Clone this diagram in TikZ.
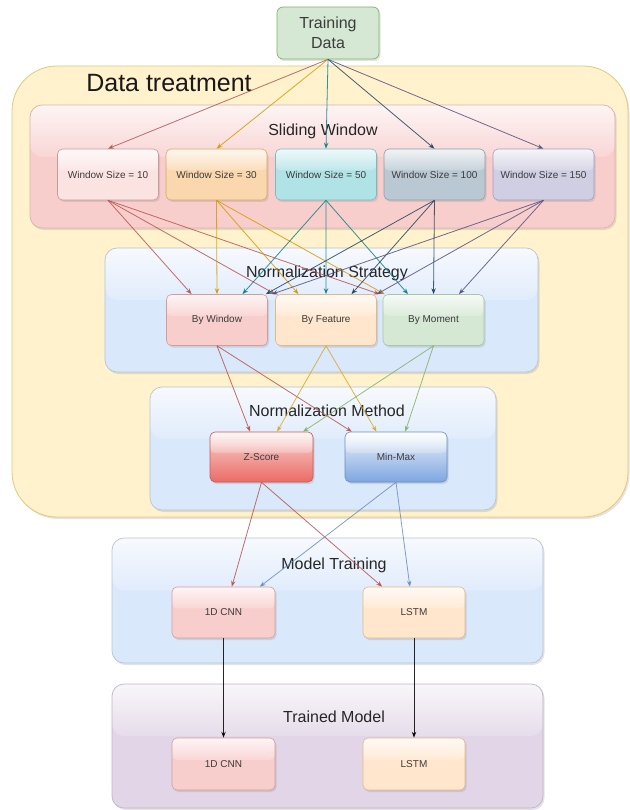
\documentclass[tikz,border=0pt]{standalone}
\usepackage{fontspec}
\setmainfont{Liberation Sans}
\usetikzlibrary{arrows.meta,calc,shadows,fadings}
\definecolor{txt}{HTML}{3C3C3C}
\definecolor{dtfill}{HTML}{FFF2CC}\definecolor{dtdraw}{HTML}{E3C77A}
\definecolor{swfill}{HTML}{F8CECC}\definecolor{swdraw}{HTML}{D9B3B1}
\definecolor{blfill}{HTML}{DAE8FC}\definecolor{bldraw}{HTML}{B7C4D6}
\definecolor{pufill}{HTML}{E1D5E7}\definecolor{pudraw}{HTML}{C0B5C6}
\definecolor{gnfill}{HTML}{D5E8D4}\definecolor{gndraw}{HTML}{82B366}
\definecolor{wafill}{HTML}{FBE3E2}\definecolor{wadraw}{HTML}{C89A98}
\definecolor{wbfill}{HTML}{FAD7AC}\definecolor{wbdraw}{HTML}{D7A86A}
\definecolor{wcfill}{HTML}{B0E3E6}\definecolor{wcdraw}{HTML}{7FB8BD}
\definecolor{wdfill}{HTML}{BAC8D3}\definecolor{wddraw}{HTML}{8D9EAB}
\definecolor{wefill}{HTML}{D0CEE2}\definecolor{wedraw}{HTML}{A29FBF}
\definecolor{rdfill}{HTML}{F8CECC}\definecolor{rddraw}{HTML}{D49C9A}
\definecolor{orfill}{HTML}{FFE6CC}\definecolor{ordraw}{HTML}{E0B98B}
\definecolor{grfill}{HTML}{D5E8D4}\definecolor{grdraw}{HTML}{A7C7A5}
\definecolor{zstop}{HTML}{F9D5D2}\definecolor{zsbot}{HTML}{EA6B66}\definecolor{zsdraw}{HTML}{C65C58}
\definecolor{mmtop}{HTML}{EEF3FB}\definecolor{mmbot}{HTML}{7EA6E0}\definecolor{mmdraw}{HTML}{6C8EBF}
\definecolor{ea}{HTML}{B85450}\definecolor{eb}{HTML}{D79B00}\definecolor{ec}{HTML}{0E8088}
\definecolor{ed}{HTML}{23445D}\definecolor{ee}{HTML}{56517E}
\definecolor{ef}{HTML}{D9A92C}\definecolor{eg}{HTML}{82B366}\definecolor{eh}{HTML}{6C8EBF}
\begin{document}
\begin{tikzpicture}[x=1pt,y=-1pt,
  glass/.style={path picture={
     \fill[white,opacity=0.2] (path picture bounding box.north west) rectangle ($(path picture bounding box.north east)!0.42!(path picture bounding box.south east)$);
     \fill[white,opacity=#1,path fading=south] (path picture bounding box.north west) rectangle ($(path picture bounding box.north east)!0.42!(path picture bounding box.south east)$);}},
  glass/.default=0.75,
  shad/.style={drop shadow={opacity=0.22,shadow xshift=1.5pt,shadow yshift=-2pt}},
  cont/.style 2 args={draw=#2, fill=#1, line width=0.7pt, rounded corners=12pt, inner sep=0pt, glass, shad},
  inbox/.style 2 args={draw=#2, fill=#1, line width=0.6pt, rounded corners=5pt, minimum width=101pt, minimum height=51pt, inner sep=0pt, font=\fontsize{10}{12}\selectfont, text=txt, glass, shad},
  lbl/.style={font=\fontsize{16}{19}\selectfont, text=black!85, inner sep=0pt},
  arr/.style={draw=#1, draw opacity=0.85, line width=0.8pt, -{Stealth[length=6pt,width=4.5pt]}}
]
\useasboundingbox (0,0) rectangle (629,810);

% Data treatment container
\node[draw=dtdraw, fill=dtfill, line width=0.8pt, rounded corners=45pt, minimum width=616pt, minimum height=451pt, inner sep=0pt, shad] (dt) at (320,291.5) {};
\node[font=\fontsize{25}{30}\selectfont, text=black!90, inner sep=0pt] (dtl) at (169,83) {Data treatment};

% Training data
\node[draw=gndraw, fill=gnfill, line width=0.7pt, rounded corners=6pt, minimum width=102pt, minimum height=52pt, inner sep=0pt, align=center, font=\fontsize{16}{20}\selectfont, text=txt, shad] (td) at (328,33) {Training\\Data};

% Sliding window
\node[cont={swfill}{swdraw}, minimum width=585pt, minimum height=123pt] (sw) at (322.5,166.5) {};
\node[lbl] (swl) at (323,131) {Sliding Window};
\node[inbox={wafill}{wadraw}] (w1) at (108,174.5) {Window Size = 10};
\node[inbox={wbfill}{wbdraw}] (w2) at (216.5,174.5) {Window Size = 30};
\node[inbox={wcfill}{wcdraw}] (w3) at (326,174.5) {Window Size = 50};
\node[inbox={wdfill}{wddraw}] (w4) at (434.5,174.5) {Window Size = 100};
\node[inbox={wefill}{wedraw}] (w5) at (543.5,174.5) {Window Size = 150};

% Normalization strategy
\node[cont={blfill}{bldraw}, minimum width=433pt, minimum height=124pt] (ns) at (321.5,310) {};
\node[lbl] (nsl) at (327,273) {Normalization Strategy};
\node[inbox={rdfill}{rddraw}] (bw) at (217,320) {By Window};
\node[inbox={orfill}{ordraw}] (bf) at (326,320) {By Feature};
\node[inbox={grfill}{grdraw}] (bm) at (433.5,320) {By Moment};

% Normalization method
\node[cont={blfill}{bldraw}, minimum width=346pt, minimum height=123pt] (nm) at (323,448.5) {};
\node[lbl] (nml) at (327,411) {Normalization Method};
\node[inbox={zsbot}{zsdraw}, top color=zstop, bottom color=zsbot, minimum width=103pt, minimum height=50pt] (zs) at (261.5,457) {Z-Score};
\node[inbox={mmbot}{mmdraw}, top color=mmtop, bottom color=mmbot, minimum width=102pt, minimum height=50pt] (mm) at (396,457) {Min-Max};

% Model training
\node[cont={blfill}{bldraw}, minimum width=431pt, minimum height=125pt] (mt) at (327.5,600.5) {};
\node[lbl] (mtl) at (334,565) {Model Training};
\node[inbox={rdfill}{rddraw}, minimum width=103pt] (c1) at (223.5,612.5) {1D CNN};
\node[inbox={orfill}{ordraw}, minimum width=102pt] (l1) at (414,612.5) {LSTM};

% Trained model
\node[cont={pufill}{pudraw}, minimum width=431pt, minimum height=124pt] (tm) at (327.5,746) {};
\node[lbl] (tml) at (334,717) {Trained Model};
\node[inbox={rdfill}{rddraw}, minimum width=103pt, minimum height=52pt] (c2) at (223.5,764) {1D CNN};
\node[inbox={orfill}{ordraw}, minimum width=102pt, minimum height=52pt] (l2) at (414,764) {LSTM};

% Training data -> windows
\draw[arr=ea] (td.south) -- (w1.north);
\draw[arr=eb] (td.south) -- (w2.north);
\draw[arr=ec] (td.south) -- (w3.north);
\draw[arr=ed] (td.south) -- (w4.north);
\draw[arr=ee] (td.south) -- (w5.north);

% Windows -> strategies
\draw[arr=ea] (w1.south) -- ($(bw.north west)!0.25!(bw.north east)$);
\draw[arr=ea] (w1.south) -- ($(bf.north west)!0.0!(bf.north east)$);
\draw[arr=ea] (w1.south) -- ($(bm.north west)!-0.03!(bm.north east)$);
\draw[arr=eb] (w2.south) -- ($(bw.north west)!0.5!(bw.north east)$);
\draw[arr=eb] (w2.south) -- ($(bf.north west)!0.23!(bf.north east)$);
\draw[arr=eb] (w2.south) -- ($(bm.north west)!0.02!(bm.north east)$);
\draw[arr=ec] (w3.south) -- ($(bw.north west)!0.75!(bw.north east)$);
\draw[arr=ec] (w3.south) -- ($(bf.north west)!0.5!(bf.north east)$);
\draw[arr=ec] (w3.south) -- ($(bm.north west)!0.25!(bm.north east)$);
\draw[arr=ed] (w4.south) -- ($(bw.north west)!0.98!(bw.north east)$);
\draw[arr=ed] (w4.south) -- ($(bf.north west)!0.75!(bf.north east)$);
\draw[arr=ed] (w4.south) -- ($(bm.north west)!0.5!(bm.north east)$);
\draw[arr=ee] (w5.south) -- ($(bw.north west)!1.04!(bw.north east)$);
\draw[arr=ee] (w5.south) -- ($(bf.north west)!1.0!(bf.north east)$);
\draw[arr=ee] (w5.south) -- ($(bm.north west)!0.75!(bm.north east)$);

% Strategies -> methods
\draw[arr=ea] (bw.south) -- ($(zs.north west)!0.39!(zs.north east)$);
\draw[arr=ea] (bw.south) -- ($(mm.north west)!0.07!(mm.north east)$);
\draw[arr=ef] (bf.south) -- ($(zs.north west)!0.65!(zs.north east)$);
\draw[arr=ef] (bf.south) -- ($(mm.north west)!0.31!(mm.north east)$);
\draw[arr=eg] (bm.south) -- ($(zs.north west)!0.90!(zs.north east)$);
\draw[arr=eg] (bm.south) -- ($(mm.north west)!0.59!(mm.north east)$);

% Methods -> models
\draw[arr=ea] (zs.south) -- ($(c1.north west)!0.58!(c1.north east)$);
\draw[arr=ea] (zs.south) -- ($(l1.north west)!0.19!(l1.north east)$);
\draw[arr=eh] (mm.south) -- ($(c1.north west)!0.85!(c1.north east)$);
\draw[arr=eh] (mm.south) -- ($(l1.north west)!0.46!(l1.north east)$);

% Training -> trained
\draw[arr=black] (c1.south) -- (c2.north);
\draw[arr=black] (l1.south) -- (l2.north);
\end{tikzpicture}
\end{document}
